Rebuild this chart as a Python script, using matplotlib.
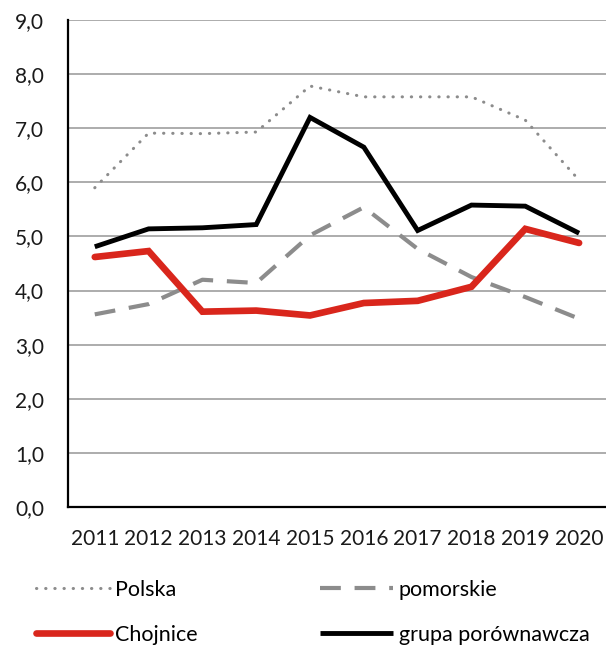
import matplotlib
matplotlib.use('Agg')
import matplotlib.pyplot as plt
import numpy as np

years = ['2011', '2012', '2013', '2014', '2015', '2016', '2017', '2018', '2019', '2020']
polska = [5.90, 6.91, 6.90, 6.93, 7.78, 7.58, 7.58, 7.58, 7.15, 6.04]
pomorskie = [3.56, 3.75, 4.20, 4.14, 5.02, 5.54, 4.77, 4.25, 3.88, 3.48]
chojnice = [4.62, 4.73, 3.61, 3.63, 3.54, 3.77, 3.81, 4.07, 5.14, 4.88]
grupa = [4.81, 5.14, 5.16, 5.22, 7.20, 6.65, 5.11, 5.58, 5.56, 5.06]
yticks = [0, 1, 2, 3, 4, 5, 6, 7, 8, 9]

plt.rcParams['font.family'] = ['Lato', 'DejaVu Sans']

fig = plt.figure(figsize=(6.06, 6.48), dpi=100)
ax = fig.add_axes([0.112, 0.2176, 0.888, 0.7515])

x = np.arange(len(years))
l_pol, = ax.plot(x, polska, color='#8c8c8c', lw=2.2, linestyle=(0, (0.1, 2.9)),
                 dash_capstyle='round', solid_capstyle='round', label='Polska')
l_pom, = ax.plot(x, pomorskie, color='#8c8c8c', lw=3, linestyle=(0, (5, 3.3)),
                 dash_capstyle='butt', label='pomorskie')
l_cho, = ax.plot(x, chojnice, color='#d9261c', lw=4.8, solid_capstyle='round',
                 solid_joinstyle='miter', label='Chojnice')
l_gr, = ax.plot(x, grupa, color='black', lw=3.5, solid_capstyle='butt',
                solid_joinstyle='miter', label='grupa porównawcza')

ax.set_xlim(-0.5, len(years) - 0.5)
ax.set_ylim(0, 9)
ax.set_yticks(yticks)
ax.set_yticklabels([f'{v},0' for v in yticks])
ax.set_xticks(x)
ax.set_xticklabels(years)
ax.tick_params(axis='both', length=0, labelsize=15, colors='#1a1a1a')
ax.tick_params(axis='y', pad=17)
ax.tick_params(axis='x', pad=16)

ax.grid(axis='y', color='#a6a6a6', lw=1.3)
ax.set_axisbelow(True)
for s in ['top', 'right']:
    ax.spines[s].set_visible(False)
for s in ['left', 'bottom']:
    ax.spines[s].set_linewidth(1.6)
    ax.spines[s].set_color('black')

leg = fig.legend([l_pol, l_cho, l_pom, l_gr],
                 ['Polska', 'Chojnice', 'pomorskie', 'grupa porównawcza'],
                 ncol=2, frameon=False, fontsize=15.5, loc='upper left',
                 bbox_to_anchor=(0.06, 0.105), handlelength=3.4,
                 handletextpad=0.25, columnspacing=5.7, labelspacing=1.15,
                 borderaxespad=0, borderpad=0)

fig.savefig('out.png', dpi=100)
